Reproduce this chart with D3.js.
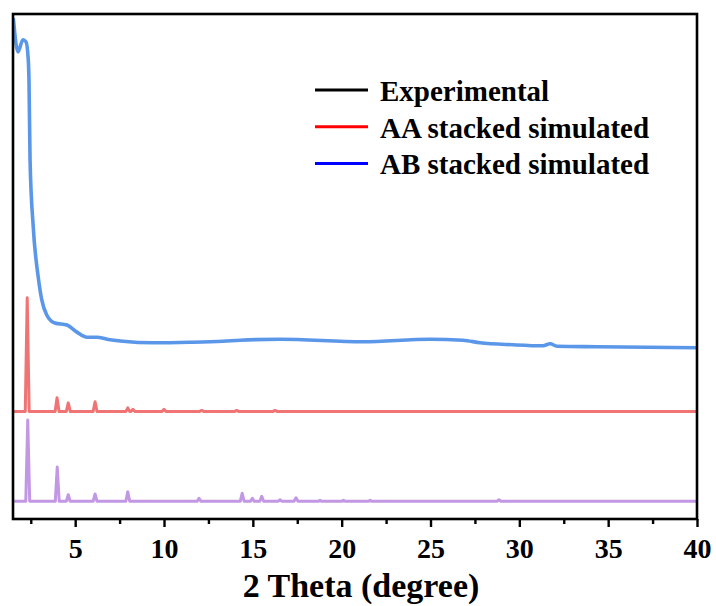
<!DOCTYPE html>
<html>
<head>
<meta charset="utf-8">
<script src="https://cdn.jsdelivr.net/npm/d3@7"></script>
<style>
  html, body { margin: 0; padding: 0; background: #fff; }
  svg text { font-family: "Liberation Serif", "Times New Roman", serif; font-weight: bold; }
</style>
</head>
<body>
<svg id="chart" width="716" height="606"></svg>
<script>
// Experimental PXRD trace (2θ in degrees, intensity in a.u.)
const expX = [1.52, 1.78, 2.06, 2.23, 2.36, 2.40, 2.46, 2.64, 2.92, 3.12, 3.40, 3.86, 4.54, 5.10, 5.67, 6.23, 6.79, 7.69, 9.38, 11.46, 13.32, 14.28, 16.53, 21.20, 24.97, 26.83, 27.79, 29.64, 31.33, 31.73, 32.12, 34.37, 40.0];
const expY = [99.2, 92.5, 94.9, 94.5, 90.9, 86.9, 71.1, 57.8, 47.9, 43.4, 40.4, 38.8, 38.4, 37.0, 36.0, 36.0, 35.6, 35.2, 34.9, 35.0, 35.2, 35.4, 35.6, 35.1, 35.6, 35.4, 34.9, 34.5, 34.3, 34.7, 34.2, 34.1, 33.9];

// Simulated reflections: peak positions (2θ) and heights above each trace's baseline
const aaPos    = [2.30, 3.98, 4.61, 6.12, 7.96, 8.25, 10.0, 12.12, 14.09, 16.25];
const aaHeight = [22.5, 2.7, 1.7, 1.9, 0.7, 0.4, 0.4, 0.2, 0.2, 0.2];
const aaOffset = 21.3;

const abPos    = [2.33, 3.99, 4.61, 6.12, 7.96, 11.97, 14.40, 14.97, 15.50, 16.53, 17.43, 18.78, 20.10, 21.60, 28.85];
const abHeight = [16.1, 6.8, 1.3, 1.45, 1.9, 0.6, 1.6, 0.6, 1.0, 0.3, 0.7, 0.2, 0.2, 0.2, 0.3];
const abOffset = 3.5;

const xTicks = [5, 10, 15, 20, 25, 30, 35, 40];
const xMinorTicks = [2.5, 7.5, 12.5, 17.5, 22.5, 27.5, 32.5, 37.5];
const legendLabels = ["Experimental", "AA stacked simulated", "AB stacked simulated"];
const legendColors = ["#000000", "#ff0000", "#0000ff"];
const lineColors = { exp: "#5b97e8", aa: "#f07474", ab: "#c298e4" };

const svg = d3.select("#chart");
const plot = { left: 13, right: 697, top: 14, bottom: 519 };

const x = d3.scaleLinear().domain([1.5, 40]).range([plot.left, plot.right]);
const y = d3.scaleLinear().domain([0, 100]).range([plot.bottom, plot.top]);

// Build a stick-like profile from the peak list: baseline – apex – baseline
function stickPattern(pos, height, offset, halfWidth) {
  const pts = [[x.domain()[0], offset]];
  pos.forEach((p, i) => {
    pts.push([p - halfWidth, offset], [p, offset + height[i]], [p + halfWidth, offset]);
  });
  pts.push([x.domain()[1], offset]);
  return pts;
}

const line = d3.line().x(d => x(d[0])).y(d => y(d[1]));

svg.append("clipPath").attr("id", "plotClip")
  .append("rect")
  .attr("x", plot.left).attr("y", plot.top)
  .attr("width", plot.right - plot.left).attr("height", plot.bottom - plot.top);

const g = svg.append("g").attr("clip-path", "url(#plotClip)");

g.append("path")
  .datum(stickPattern(abPos, abHeight, abOffset, 0.11))
  .attr("d", line)
  .attr("fill", "none").attr("stroke", lineColors.ab)
  .attr("stroke-width", 3).attr("stroke-linejoin", "round");

g.append("path")
  .datum(stickPattern(aaPos, aaHeight, aaOffset, 0.11))
  .attr("d", line)
  .attr("fill", "none").attr("stroke", lineColors.aa)
  .attr("stroke-width", 3).attr("stroke-linejoin", "round");

g.append("path")
  .datum(expX.map((v, i) => [v, expY[i]]))
  .attr("d", line.curve(d3.curveMonotoneX))
  .attr("fill", "none").attr("stroke", lineColors.exp)
  .attr("stroke-width", 3.6).attr("stroke-linejoin", "round");

// Frame
svg.append("rect")
  .attr("x", plot.left).attr("y", plot.top)
  .attr("width", plot.right - plot.left).attr("height", plot.bottom - plot.top)
  .attr("fill", "none").attr("stroke", "#000").attr("stroke-width", 2.6);

// Bottom axis: major ticks with labels, minor ticks without
const axisMajor = d3.axisBottom(x).tickValues(xTicks).tickSize(8).tickPadding(8).tickFormat(d3.format("d"));
const axisMinor = d3.axisBottom(x).tickValues(xMinorTicks).tickSize(5).tickFormat("");

const gMinor = svg.append("g").attr("transform", `translate(0,${plot.bottom})`).call(axisMinor);
gMinor.select(".domain").remove();
gMinor.selectAll("line").attr("stroke", "#000").attr("stroke-width", 2.4);

const gMajor = svg.append("g").attr("transform", `translate(0,${plot.bottom})`).call(axisMajor);
gMajor.select(".domain").remove();
gMajor.selectAll("line").attr("stroke", "#000").attr("stroke-width", 2.4);
gMajor.selectAll("text")
  .attr("font-family", "Liberation Serif, serif")
  .attr("font-weight", "bold")
  .attr("font-size", 28)
  .attr("fill", "#000")
  .attr("dy", null)
  .attr("y", 39);

// Axis title
svg.append("text")
  .attr("x", 361).attr("y", 597)
  .attr("text-anchor", "middle")
  .attr("font-size", 34)
  .attr("fill", "#000")
  .text("2 Theta (degree)");

// Legend
const legend = svg.append("g");
legendLabels.forEach((label, i) => {
  const cy = 90 + i * 36.7;
  legend.append("line")
    .attr("x1", 315).attr("x2", 368).attr("y1", cy).attr("y2", cy)
    .attr("stroke", legendColors[i]).attr("stroke-width", 3);
  legend.append("text")
    .attr("x", 380).attr("y", cy + 11)
    .attr("font-size", 29)
    .attr("fill", "#000")
    .text(label);
});
</script>
</body>
</html>
